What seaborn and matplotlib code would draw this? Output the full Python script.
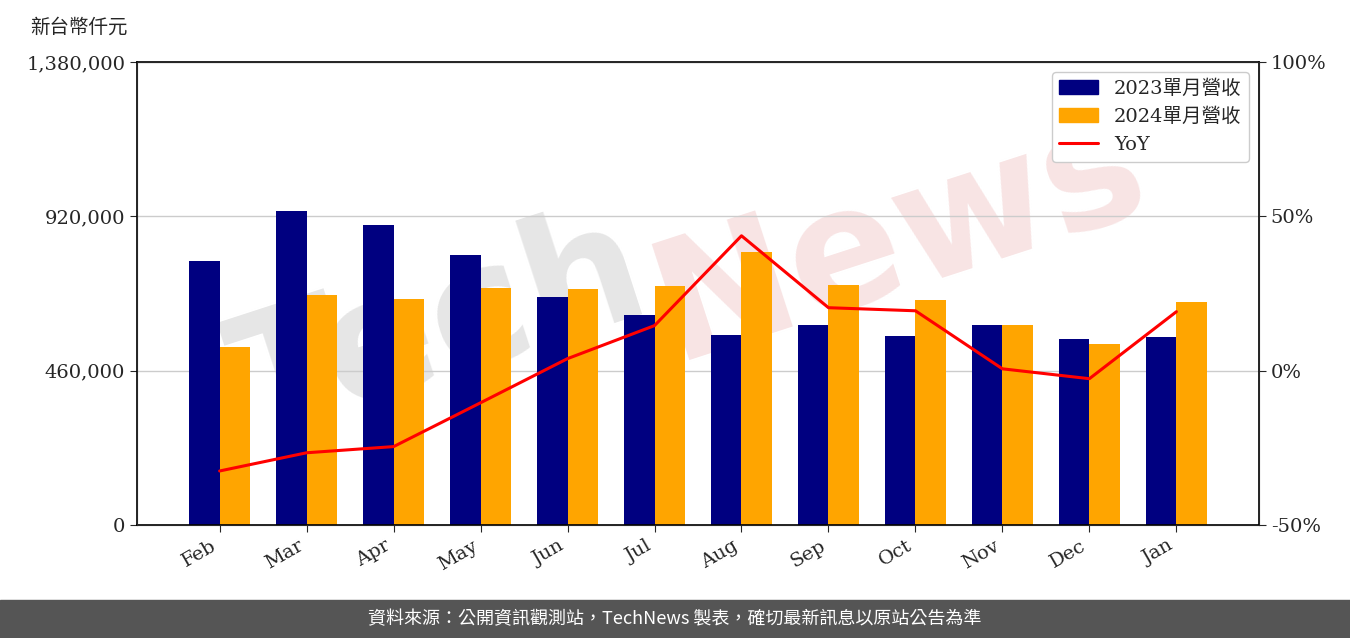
import matplotlib
matplotlib.use('Agg')
import matplotlib.pyplot as plt
import matplotlib.patches as mpatches
import matplotlib.ticker as mticker
import seaborn as sns
import pandas as pd

months = ['Feb', 'Mar', 'Apr', 'May', 'Jun', 'Jul', 'Aug', 'Sep', 'Oct', 'Nov', 'Dec', 'Jan']
rev_2023 = [787000, 936000, 894000, 805000, 680000, 626000, 566000, 596000, 563000, 596000, 554000, 560000]
rev_2024 = [531000, 686000, 674000, 706000, 703000, 712000, 814000, 715000, 671000, 596000, 540000, 665000]
yoy = [-32.5, -26.6, -24.6, -10.4, 3.9, 14.6, 43.7, 20.4, 19.4, 0.6, -2.6, 19.1]

sns.set_style('white')
plt.rcParams['font.family'] = ['DejaVu Serif', 'Noto Sans CJK TC']

df = pd.DataFrame({'month': months * 2,
                   'rev': rev_2023 + rev_2024,
                   'year': ['2023單月營收'] * 12 + ['2024單月營收'] * 12})

fig = plt.figure(figsize=(13.5, 6.38), dpi=100)
ax = fig.add_axes([137 / 1350, 1 - 525 / 638, 1122 / 1350, 463 / 638])

# watermark behind the bars
ax.text(0.27, 0.42, 'Tech', transform=ax.transAxes, fontsize=120, color='#e6e6e6',
        rotation=18, ha='center', va='center', fontweight='bold', family='DejaVu Sans', zorder=0)
ax.text(0.68, 0.62, 'News', transform=ax.transAxes, fontsize=120, color='#f8e4e4',
        rotation=18, ha='center', va='center', fontweight='bold', family='DejaVu Sans', zorder=0)

sns.barplot(data=df, x='month', y='rev', hue='year', palette=['#000080', '#FFA500'],
            width=0.7, ax=ax, saturation=1, linewidth=0, zorder=2)
ax.set_ylim(0, 1380000)
ax.set_yticks([0, 460000, 920000, 1380000])
ax.yaxis.set_major_formatter(mticker.FuncFormatter(lambda v, p: f'{int(v):,}'))
ax.grid(axis='y', color='#cccccc', linewidth=1, zorder=1)
ax.set_axisbelow(True)
ax.set_xlabel('')
ax.set_ylabel('')
ax.tick_params(axis='both', labelsize=14, length=5, direction='out', bottom=True, left=True)
plt.setp(ax.get_xticklabels(), rotation=30, ha='right')
for s in ax.spines.values():
    s.set_color('black')
    s.set_linewidth(1.2)

ax2 = ax.twinx()
ax2.plot(range(12), yoy, color='red', linewidth=2.2)
ax2.set_ylim(-50, 100)
ax2.set_yticks([-50, 0, 50, 100])
ax2.yaxis.set_major_formatter(mticker.FuncFormatter(lambda v, p: f'{int(v)}%'))
ax2.tick_params(axis='y', labelsize=14, length=5, right=True)
ax.set_xlim(-0.95, 11.95)

h = [mpatches.Patch(color='#000080', label='2023單月營收'),
     mpatches.Patch(color='#FFA500', label='2024單月營收'),
     plt.Line2D([], [], color='red', linewidth=2.2, label='YoY')]
ax.get_legend().remove()
ax2.legend(handles=h, loc='upper right', fontsize=14, framealpha=1, edgecolor='#cccccc')

fig.text(30 / 1350, 1 - 27 / 638, '新台幣仟元', fontsize=14, va='center')

fig.patches.append(mpatches.Rectangle((0, 0), 1, 38 / 638, transform=fig.transFigure,
                                      color='#555555', zorder=-1))
fig.text(0.5, 19 / 638, '資料來源：公開資訊觀測站，TechNews 製表，確切最新訊息以原站公告為準',
         color='white', fontsize=13, ha='center', va='center', family=['Noto Sans CJK TC'])

fig.savefig('out.png', dpi=100)
